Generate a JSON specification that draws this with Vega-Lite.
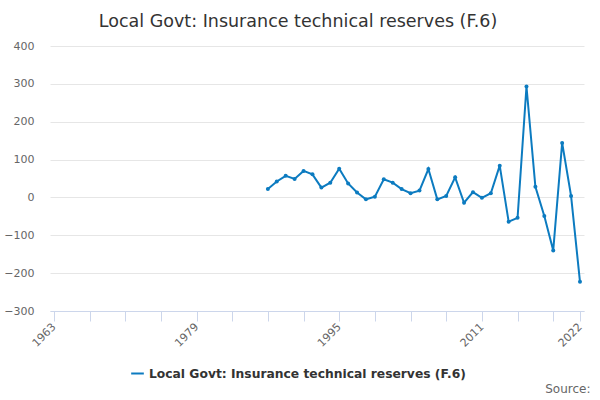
{
  "$schema": "https://vega.github.io/schema/vega-lite/v6.json",
  "autosize": "none",
  "width": 534,
  "height": 265,
  "padding": {"left": 50, "top": 46, "right": 16, "bottom": 89},
  "background": "white",
  "title": {
    "text": "Local Govt: Insurance technical reserves (F.6)",
    "anchor": "middle",
    "dx": -19,
    "offset": 10,
    "font": "DejaVu Sans",
    "fontSize": 17.5,
    "fontWeight": "normal",
    "color": "#333333"
  },
  "config": {
    "view": {"stroke": null},
    "font": "DejaVu Sans"
  },
  "data": {
    "values": [
      {"year": 1987, "value": 22, "series": "Local Govt: Insurance technical reserves (F.6)"},
      {"year": 1988, "value": 42, "series": "Local Govt: Insurance technical reserves (F.6)"},
      {"year": 1989, "value": 57, "series": "Local Govt: Insurance technical reserves (F.6)"},
      {"year": 1990, "value": 49, "series": "Local Govt: Insurance technical reserves (F.6)"},
      {"year": 1991, "value": 70, "series": "Local Govt: Insurance technical reserves (F.6)"},
      {"year": 1992, "value": 61, "series": "Local Govt: Insurance technical reserves (F.6)"},
      {"year": 1993, "value": 26, "series": "Local Govt: Insurance technical reserves (F.6)"},
      {"year": 1994, "value": 39, "series": "Local Govt: Insurance technical reserves (F.6)"},
      {"year": 1995, "value": 76, "series": "Local Govt: Insurance technical reserves (F.6)"},
      {"year": 1996, "value": 37, "series": "Local Govt: Insurance technical reserves (F.6)"},
      {"year": 1997, "value": 13, "series": "Local Govt: Insurance technical reserves (F.6)"},
      {"year": 1998, "value": -5, "series": "Local Govt: Insurance technical reserves (F.6)"},
      {"year": 1999, "value": 2, "series": "Local Govt: Insurance technical reserves (F.6)"},
      {"year": 2000, "value": 48, "series": "Local Govt: Insurance technical reserves (F.6)"},
      {"year": 2001, "value": 39, "series": "Local Govt: Insurance technical reserves (F.6)"},
      {"year": 2002, "value": 22, "series": "Local Govt: Insurance technical reserves (F.6)"},
      {"year": 2003, "value": 11, "series": "Local Govt: Insurance technical reserves (F.6)"},
      {"year": 2004, "value": 18, "series": "Local Govt: Insurance technical reserves (F.6)"},
      {"year": 2005, "value": 75, "series": "Local Govt: Insurance technical reserves (F.6)"},
      {"year": 2006, "value": -5, "series": "Local Govt: Insurance technical reserves (F.6)"},
      {"year": 2007, "value": 4, "series": "Local Govt: Insurance technical reserves (F.6)"},
      {"year": 2008, "value": 53, "series": "Local Govt: Insurance technical reserves (F.6)"},
      {"year": 2009, "value": -14, "series": "Local Govt: Insurance technical reserves (F.6)"},
      {"year": 2010, "value": 14, "series": "Local Govt: Insurance technical reserves (F.6)"},
      {"year": 2011, "value": -1, "series": "Local Govt: Insurance technical reserves (F.6)"},
      {"year": 2012, "value": 11, "series": "Local Govt: Insurance technical reserves (F.6)"},
      {"year": 2013, "value": 84, "series": "Local Govt: Insurance technical reserves (F.6)"},
      {"year": 2014, "value": -64, "series": "Local Govt: Insurance technical reserves (F.6)"},
      {"year": 2015, "value": -54, "series": "Local Govt: Insurance technical reserves (F.6)"},
      {"year": 2016, "value": 293, "series": "Local Govt: Insurance technical reserves (F.6)"},
      {"year": 2017, "value": 28, "series": "Local Govt: Insurance technical reserves (F.6)"},
      {"year": 2018, "value": -49, "series": "Local Govt: Insurance technical reserves (F.6)"},
      {"year": 2019, "value": -140, "series": "Local Govt: Insurance technical reserves (F.6)"},
      {"year": 2020, "value": 144, "series": "Local Govt: Insurance technical reserves (F.6)"},
      {"year": 2021, "value": 4, "series": "Local Govt: Insurance technical reserves (F.6)"},
      {"year": 2022, "value": -223, "series": "Local Govt: Insurance technical reserves (F.6)"}
    ]
  },
  "mark": {
    "type": "line",
    "strokeWidth": 2,
    "point": {"filled": true, "size": 16}
  },
  "encoding": {
    "x": {
      "field": "year",
      "type": "quantitative",
      "scale": {"domain": [1962.57, 2022.45], "nice": false, "zero": false},
      "axis": {
        "title": "Source:",
        "titleFont": "DejaVu Sans",
        "titleFontSize": 12,
        "titleFontWeight": "normal",
        "titleColor": "#666666",
        "titleAnchor": "end",
        "titleAlign": "right",
        "titleBaseline": "bottom",
        "titleX": 540,
        "titleY": 84,
        "values": [1963, 1967, 1971, 1975, 1979, 1983, 1987, 1991, 1995, 1999, 2003, 2007, 2011, 2015, 2019, 2022],
        "labelExpr": "indexof([1963, 1979, 1995, 2011, 2022], datum.value) >= 0 ? datum.value : ''",
        "labelAngle": -45,
        "labelAlign": "right",
        "labelBaseline": "middle",
        "labelPadding": 4,
        "labelFontSize": 11,
        "labelColor": "#666666",
        "labelFont": "DejaVu Sans",
        "labelOverlap": false,
        "labelFlush": false,
        "tickColor": "#ccd6eb",
        "tickSize": 10,
        "domainColor": "#ccd6eb",
        "grid": false
      }
    },
    "y": {
      "field": "value",
      "type": "quantitative",
      "scale": {"domain": [-300, 400], "nice": false},
      "axis": {
        "title": null,
        "values": [-300, -200, -100, 0, 100, 200, 300, 400],
        "domain": false,
        "ticks": false,
        "labelPadding": 16,
        "labelFontSize": 11,
        "labelColor": "#666666",
        "labelFont": "DejaVu Sans",
        "gridColor": "#e6e6e6",
        "gridWidth": 1
      }
    },
    "color": {
      "field": "series",
      "type": "nominal",
      "scale": {"range": ["#0c7bc0"]},
      "legend": {
        "title": null,
        "orient": "none",
        "legendX": 80,
        "legendY": 320,
        "symbolType": "stroke",
        "symbolSize": 160,
        "symbolStrokeWidth": 2,
        "labelFont": "DejaVu Sans",
        "labelFontSize": 12.3,
        "labelFontWeight": "bold",
        "labelColor": "#333333",
        "labelLimit": 400
      }
    }
  }
}
